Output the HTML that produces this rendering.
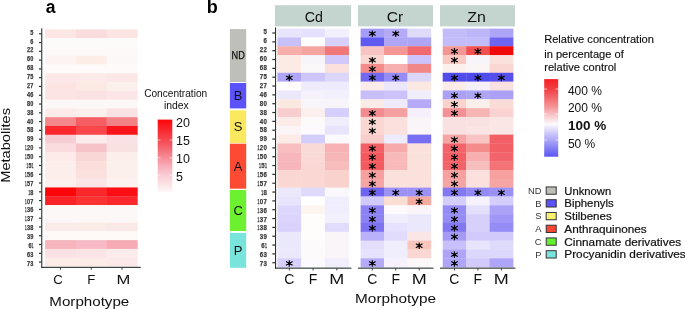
<!DOCTYPE html><html><head><meta charset="utf-8"><style>html,body{margin:0;padding:0;background:#fff;width:685px;height:309px;overflow:hidden}svg{display:block}text{font-family:"Liberation Sans",sans-serif}body{filter:grayscale(0.001)}</style></head><body>
<svg width="685" height="309" viewBox="0 0 685 309">
<rect width="685" height="309" fill="#fff"/>
<rect x="45.10" y="29.40" width="31.07" height="9.08" fill="rgb(252,230,228)"/>
<rect x="75.87" y="29.40" width="31.07" height="9.08" fill="rgb(250,220,222)"/>
<rect x="106.63" y="29.40" width="31.07" height="9.08" fill="rgb(251,228,225)"/>
<rect x="45.10" y="38.18" width="31.07" height="9.08" fill="rgb(253,250,250)"/>
<rect x="75.87" y="38.18" width="31.07" height="9.08" fill="rgb(253,250,250)"/>
<rect x="106.63" y="38.18" width="31.07" height="9.08" fill="rgb(253,250,250)"/>
<rect x="45.10" y="46.96" width="31.07" height="9.08" fill="rgb(253,249,248)"/>
<rect x="75.87" y="46.96" width="31.07" height="9.08" fill="rgb(253,249,248)"/>
<rect x="106.63" y="46.96" width="31.07" height="9.08" fill="rgb(253,249,248)"/>
<rect x="45.10" y="55.74" width="31.07" height="9.08" fill="rgb(252,243,242)"/>
<rect x="75.87" y="55.74" width="31.07" height="9.08" fill="rgb(252,238,230)"/>
<rect x="106.63" y="55.74" width="31.07" height="9.08" fill="rgb(253,248,248)"/>
<rect x="45.10" y="64.52" width="31.07" height="9.08" fill="rgb(253,250,249)"/>
<rect x="75.87" y="64.52" width="31.07" height="9.08" fill="rgb(253,250,249)"/>
<rect x="106.63" y="64.52" width="31.07" height="9.08" fill="rgb(253,250,249)"/>
<rect x="45.10" y="73.30" width="31.07" height="9.08" fill="rgb(252,232,230)"/>
<rect x="75.87" y="73.30" width="31.07" height="9.08" fill="rgb(252,234,232)"/>
<rect x="106.63" y="73.30" width="31.07" height="9.08" fill="rgb(251,232,230)"/>
<rect x="45.10" y="82.08" width="31.07" height="9.08" fill="rgb(251,228,226)"/>
<rect x="75.87" y="82.08" width="31.07" height="9.08" fill="rgb(252,233,228)"/>
<rect x="106.63" y="82.08" width="31.07" height="9.08" fill="rgb(252,240,236)"/>
<rect x="45.10" y="90.86" width="31.07" height="9.08" fill="rgb(251,228,226)"/>
<rect x="75.87" y="90.86" width="31.07" height="9.08" fill="rgb(251,226,226)"/>
<rect x="106.63" y="90.86" width="31.07" height="9.08" fill="rgb(251,229,230)"/>
<rect x="45.10" y="99.64" width="31.07" height="9.08" fill="rgb(253,248,248)"/>
<rect x="75.87" y="99.64" width="31.07" height="9.08" fill="rgb(253,248,248)"/>
<rect x="106.63" y="99.64" width="31.07" height="9.08" fill="rgb(253,248,248)"/>
<rect x="45.10" y="108.42" width="31.07" height="9.08" fill="rgb(252,235,232)"/>
<rect x="75.87" y="108.42" width="31.07" height="9.08" fill="rgb(252,240,238)"/>
<rect x="106.63" y="108.42" width="31.07" height="9.08" fill="rgb(250,225,228)"/>
<rect x="45.10" y="117.20" width="31.07" height="9.08" fill="rgb(244,135,140)"/>
<rect x="75.87" y="117.20" width="31.07" height="9.08" fill="rgb(245,95,100)"/>
<rect x="106.63" y="117.20" width="31.07" height="9.08" fill="rgb(243,130,135)"/>
<rect x="45.10" y="125.98" width="31.07" height="9.08" fill="rgb(250,40,45)"/>
<rect x="75.87" y="125.98" width="31.07" height="9.08" fill="rgb(248,70,75)"/>
<rect x="106.63" y="125.98" width="31.07" height="9.08" fill="rgb(250,20,25)"/>
<rect x="45.10" y="134.76" width="31.07" height="9.08" fill="rgb(247,205,212)"/>
<rect x="75.87" y="134.76" width="31.07" height="9.08" fill="rgb(251,235,235)"/>
<rect x="106.63" y="134.76" width="31.07" height="9.08" fill="rgb(250,225,230)"/>
<rect x="45.10" y="143.54" width="31.07" height="9.08" fill="rgb(250,220,222)"/>
<rect x="75.87" y="143.54" width="31.07" height="9.08" fill="rgb(245,195,200)"/>
<rect x="106.63" y="143.54" width="31.07" height="9.08" fill="rgb(250,225,225)"/>
<rect x="45.10" y="152.32" width="31.07" height="9.08" fill="rgb(252,235,232)"/>
<rect x="75.87" y="152.32" width="31.07" height="9.08" fill="rgb(250,215,215)"/>
<rect x="106.63" y="152.32" width="31.07" height="9.08" fill="rgb(252,238,235)"/>
<rect x="45.10" y="161.10" width="31.07" height="9.08" fill="rgb(252,238,235)"/>
<rect x="75.87" y="161.10" width="31.07" height="9.08" fill="rgb(250,222,220)"/>
<rect x="106.63" y="161.10" width="31.07" height="9.08" fill="rgb(252,240,236)"/>
<rect x="45.10" y="169.88" width="31.07" height="9.08" fill="rgb(252,238,235)"/>
<rect x="75.87" y="169.88" width="31.07" height="9.08" fill="rgb(250,225,222)"/>
<rect x="106.63" y="169.88" width="31.07" height="9.08" fill="rgb(252,240,236)"/>
<rect x="45.10" y="178.66" width="31.07" height="9.08" fill="rgb(252,240,238)"/>
<rect x="75.87" y="178.66" width="31.07" height="9.08" fill="rgb(250,230,230)"/>
<rect x="106.63" y="178.66" width="31.07" height="9.08" fill="rgb(252,242,240)"/>
<rect x="45.10" y="187.44" width="31.07" height="9.08" fill="rgb(252,5,10)"/>
<rect x="75.87" y="187.44" width="31.07" height="9.08" fill="rgb(250,40,42)"/>
<rect x="106.63" y="187.44" width="31.07" height="9.08" fill="rgb(252,15,20)"/>
<rect x="45.10" y="196.22" width="31.07" height="9.08" fill="rgb(250,35,40)"/>
<rect x="75.87" y="196.22" width="31.07" height="9.08" fill="rgb(250,50,50)"/>
<rect x="106.63" y="196.22" width="31.07" height="9.08" fill="rgb(250,40,45)"/>
<rect x="45.10" y="205.00" width="31.07" height="9.08" fill="rgb(253,248,248)"/>
<rect x="75.87" y="205.00" width="31.07" height="9.08" fill="rgb(253,248,248)"/>
<rect x="106.63" y="205.00" width="31.07" height="9.08" fill="rgb(253,248,248)"/>
<rect x="45.10" y="213.78" width="31.07" height="9.08" fill="rgb(253,248,248)"/>
<rect x="75.87" y="213.78" width="31.07" height="9.08" fill="rgb(253,248,248)"/>
<rect x="106.63" y="213.78" width="31.07" height="9.08" fill="rgb(253,248,248)"/>
<rect x="45.10" y="222.56" width="31.07" height="9.08" fill="rgb(251,235,232)"/>
<rect x="75.87" y="222.56" width="31.07" height="9.08" fill="rgb(251,236,232)"/>
<rect x="106.63" y="222.56" width="31.07" height="9.08" fill="rgb(250,232,230)"/>
<rect x="45.10" y="231.34" width="31.07" height="9.08" fill="rgb(253,250,248)"/>
<rect x="75.87" y="231.34" width="31.07" height="9.08" fill="rgb(253,250,248)"/>
<rect x="106.63" y="231.34" width="31.07" height="9.08" fill="rgb(253,250,248)"/>
<rect x="45.10" y="240.12" width="31.07" height="9.08" fill="rgb(246,180,188)"/>
<rect x="75.87" y="240.12" width="31.07" height="9.08" fill="rgb(247,185,195)"/>
<rect x="106.63" y="240.12" width="31.07" height="9.08" fill="rgb(245,170,180)"/>
<rect x="45.10" y="248.90" width="31.07" height="9.08" fill="rgb(250,225,228)"/>
<rect x="75.87" y="248.90" width="31.07" height="9.08" fill="rgb(250,228,230)"/>
<rect x="106.63" y="248.90" width="31.07" height="9.08" fill="rgb(251,235,235)"/>
<rect x="45.10" y="257.68" width="31.07" height="9.08" fill="rgb(251,236,232)"/>
<rect x="75.87" y="257.68" width="31.07" height="9.08" fill="rgb(251,236,232)"/>
<rect x="106.63" y="257.68" width="31.07" height="9.08" fill="rgb(251,232,232)"/>
<rect x="41.2" y="28.3" width="1.1" height="239.6" fill="#2a3330"/>
<rect x="41.2" y="266.8" width="99.5" height="1.1" fill="#2a3330"/>
<rect x="39" y="33.19" width="2.5" height="1.2" fill="#2a3330"/>
<text x="30.30" y="34.70" font-size="7.0" font-weight="bold" fill="#3a3a3a" stroke="#3a3a3a" stroke-width="0.25" textLength="3.10" lengthAdjust="spacingAndGlyphs">5</text>
<rect x="39" y="41.97" width="2.5" height="1.2" fill="#2a3330"/>
<text x="30.30" y="43.59" font-size="7.0" font-weight="bold" fill="#3a3a3a" stroke="#3a3a3a" stroke-width="0.25" textLength="3.10" lengthAdjust="spacingAndGlyphs">6</text>
<rect x="39" y="50.75" width="2.5" height="1.2" fill="#2a3330"/>
<text x="26.90" y="52.48" font-size="7.0" font-weight="bold" fill="#3a3a3a" stroke="#3a3a3a" stroke-width="0.25" textLength="3.10" lengthAdjust="spacingAndGlyphs">2</text><text x="30.30" y="52.48" font-size="7.0" font-weight="bold" fill="#3a3a3a" stroke="#3a3a3a" stroke-width="0.25" textLength="3.10" lengthAdjust="spacingAndGlyphs">2</text>
<rect x="39" y="59.53" width="2.5" height="1.2" fill="#2a3330"/>
<text x="26.90" y="61.36" font-size="7.0" font-weight="bold" fill="#3a3a3a" stroke="#3a3a3a" stroke-width="0.25" textLength="3.10" lengthAdjust="spacingAndGlyphs">6</text><text x="30.30" y="61.36" font-size="7.0" font-weight="bold" fill="#3a3a3a" stroke="#3a3a3a" stroke-width="0.25" textLength="3.10" lengthAdjust="spacingAndGlyphs">0</text>
<rect x="39" y="68.31" width="2.5" height="1.2" fill="#2a3330"/>
<text x="26.90" y="70.25" font-size="7.0" font-weight="bold" fill="#3a3a3a" stroke="#3a3a3a" stroke-width="0.25" textLength="3.10" lengthAdjust="spacingAndGlyphs">6</text><text x="30.30" y="70.25" font-size="7.0" font-weight="bold" fill="#3a3a3a" stroke="#3a3a3a" stroke-width="0.25" textLength="3.10" lengthAdjust="spacingAndGlyphs">8</text>
<rect x="39" y="77.09" width="2.5" height="1.2" fill="#2a3330"/>
<text x="26.90" y="79.14" font-size="7.0" font-weight="bold" fill="#3a3a3a" stroke="#3a3a3a" stroke-width="0.25" textLength="3.10" lengthAdjust="spacingAndGlyphs">7</text><text x="30.30" y="79.14" font-size="7.0" font-weight="bold" fill="#3a3a3a" stroke="#3a3a3a" stroke-width="0.25" textLength="3.10" lengthAdjust="spacingAndGlyphs">5</text>
<rect x="39" y="85.87" width="2.5" height="1.2" fill="#2a3330"/>
<text x="26.90" y="88.03" font-size="7.0" font-weight="bold" fill="#3a3a3a" stroke="#3a3a3a" stroke-width="0.25" textLength="3.10" lengthAdjust="spacingAndGlyphs">2</text><text x="30.30" y="88.03" font-size="7.0" font-weight="bold" fill="#3a3a3a" stroke="#3a3a3a" stroke-width="0.25" textLength="3.10" lengthAdjust="spacingAndGlyphs">7</text>
<rect x="39" y="94.65" width="2.5" height="1.2" fill="#2a3330"/>
<text x="26.90" y="96.92" font-size="7.0" font-weight="bold" fill="#3a3a3a" stroke="#3a3a3a" stroke-width="0.25" textLength="3.10" lengthAdjust="spacingAndGlyphs">4</text><text x="30.30" y="96.92" font-size="7.0" font-weight="bold" fill="#3a3a3a" stroke="#3a3a3a" stroke-width="0.25" textLength="3.10" lengthAdjust="spacingAndGlyphs">6</text>
<rect x="39" y="103.43" width="2.5" height="1.2" fill="#2a3330"/>
<text x="26.90" y="105.80" font-size="7.0" font-weight="bold" fill="#3a3a3a" stroke="#3a3a3a" stroke-width="0.25" textLength="3.10" lengthAdjust="spacingAndGlyphs">8</text><text x="30.30" y="105.80" font-size="7.0" font-weight="bold" fill="#3a3a3a" stroke="#3a3a3a" stroke-width="0.25" textLength="3.10" lengthAdjust="spacingAndGlyphs">0</text>
<rect x="39" y="112.21" width="2.5" height="1.2" fill="#2a3330"/>
<text x="26.90" y="114.69" font-size="7.0" font-weight="bold" fill="#3a3a3a" stroke="#3a3a3a" stroke-width="0.25" textLength="3.10" lengthAdjust="spacingAndGlyphs">3</text><text x="30.30" y="114.69" font-size="7.0" font-weight="bold" fill="#3a3a3a" stroke="#3a3a3a" stroke-width="0.25" textLength="3.10" lengthAdjust="spacingAndGlyphs">8</text>
<rect x="39" y="120.99" width="2.5" height="1.2" fill="#2a3330"/>
<text x="26.90" y="123.58" font-size="7.0" font-weight="bold" fill="#3a3a3a" stroke="#3a3a3a" stroke-width="0.25" textLength="3.10" lengthAdjust="spacingAndGlyphs">4</text><text x="30.30" y="123.58" font-size="7.0" font-weight="bold" fill="#3a3a3a" stroke="#3a3a3a" stroke-width="0.25" textLength="3.10" lengthAdjust="spacingAndGlyphs">0</text>
<rect x="39" y="129.77" width="2.5" height="1.2" fill="#2a3330"/>
<text x="26.90" y="132.47" font-size="7.0" font-weight="bold" fill="#3a3a3a" stroke="#3a3a3a" stroke-width="0.25" textLength="3.10" lengthAdjust="spacingAndGlyphs">5</text><text x="30.30" y="132.47" font-size="7.0" font-weight="bold" fill="#3a3a3a" stroke="#3a3a3a" stroke-width="0.25" textLength="3.10" lengthAdjust="spacingAndGlyphs">8</text>
<rect x="39" y="138.55" width="2.5" height="1.2" fill="#2a3330"/>
<text x="26.90" y="141.36" font-size="7.0" font-weight="bold" fill="#3a3a3a" stroke="#3a3a3a" stroke-width="0.25" textLength="3.10" lengthAdjust="spacingAndGlyphs">9</text><text x="30.30" y="141.36" font-size="7.0" font-weight="bold" fill="#3a3a3a" stroke="#3a3a3a" stroke-width="0.25" textLength="3.10" lengthAdjust="spacingAndGlyphs">9</text>
<rect x="39" y="147.33" width="2.5" height="1.2" fill="#2a3330"/>
<text x="25.00" y="150.24" font-size="7.0" font-weight="bold" fill="#3a3a3a" stroke="#3a3a3a" stroke-width="0.25" textLength="1.60" lengthAdjust="spacingAndGlyphs">1</text><text x="26.90" y="150.24" font-size="7.0" font-weight="bold" fill="#3a3a3a" stroke="#3a3a3a" stroke-width="0.25" textLength="3.10" lengthAdjust="spacingAndGlyphs">2</text><text x="30.30" y="150.24" font-size="7.0" font-weight="bold" fill="#3a3a3a" stroke="#3a3a3a" stroke-width="0.25" textLength="3.10" lengthAdjust="spacingAndGlyphs">0</text>
<rect x="39" y="156.11" width="2.5" height="1.2" fill="#2a3330"/>
<text x="25.00" y="159.13" font-size="7.0" font-weight="bold" fill="#3a3a3a" stroke="#3a3a3a" stroke-width="0.25" textLength="1.60" lengthAdjust="spacingAndGlyphs">1</text><text x="26.90" y="159.13" font-size="7.0" font-weight="bold" fill="#3a3a3a" stroke="#3a3a3a" stroke-width="0.25" textLength="3.10" lengthAdjust="spacingAndGlyphs">5</text><text x="30.30" y="159.13" font-size="7.0" font-weight="bold" fill="#3a3a3a" stroke="#3a3a3a" stroke-width="0.25" textLength="3.10" lengthAdjust="spacingAndGlyphs">0</text>
<rect x="39" y="164.89" width="2.5" height="1.2" fill="#2a3330"/>
<text x="26.50" y="168.02" font-size="7.0" font-weight="bold" fill="#3a3a3a" stroke="#3a3a3a" stroke-width="0.25" textLength="1.60" lengthAdjust="spacingAndGlyphs">1</text><text x="28.40" y="168.02" font-size="7.0" font-weight="bold" fill="#3a3a3a" stroke="#3a3a3a" stroke-width="0.25" textLength="3.10" lengthAdjust="spacingAndGlyphs">5</text><text x="31.80" y="168.02" font-size="7.0" font-weight="bold" fill="#3a3a3a" stroke="#3a3a3a" stroke-width="0.25" textLength="1.60" lengthAdjust="spacingAndGlyphs">1</text>
<rect x="39" y="173.67" width="2.5" height="1.2" fill="#2a3330"/>
<text x="25.00" y="176.91" font-size="7.0" font-weight="bold" fill="#3a3a3a" stroke="#3a3a3a" stroke-width="0.25" textLength="1.60" lengthAdjust="spacingAndGlyphs">1</text><text x="26.90" y="176.91" font-size="7.0" font-weight="bold" fill="#3a3a3a" stroke="#3a3a3a" stroke-width="0.25" textLength="3.10" lengthAdjust="spacingAndGlyphs">5</text><text x="30.30" y="176.91" font-size="7.0" font-weight="bold" fill="#3a3a3a" stroke="#3a3a3a" stroke-width="0.25" textLength="3.10" lengthAdjust="spacingAndGlyphs">6</text>
<rect x="39" y="182.45" width="2.5" height="1.2" fill="#2a3330"/>
<text x="25.00" y="185.80" font-size="7.0" font-weight="bold" fill="#3a3a3a" stroke="#3a3a3a" stroke-width="0.25" textLength="1.60" lengthAdjust="spacingAndGlyphs">1</text><text x="26.90" y="185.80" font-size="7.0" font-weight="bold" fill="#3a3a3a" stroke="#3a3a3a" stroke-width="0.25" textLength="3.10" lengthAdjust="spacingAndGlyphs">5</text><text x="30.30" y="185.80" font-size="7.0" font-weight="bold" fill="#3a3a3a" stroke="#3a3a3a" stroke-width="0.25" textLength="3.10" lengthAdjust="spacingAndGlyphs">7</text>
<rect x="39" y="191.23" width="2.5" height="1.2" fill="#2a3330"/>
<text x="28.40" y="194.68" font-size="7.0" font-weight="bold" fill="#3a3a3a" stroke="#3a3a3a" stroke-width="0.25" textLength="1.60" lengthAdjust="spacingAndGlyphs">1</text><text x="30.30" y="194.68" font-size="7.0" font-weight="bold" fill="#3a3a3a" stroke="#3a3a3a" stroke-width="0.25" textLength="3.10" lengthAdjust="spacingAndGlyphs">8</text>
<rect x="39" y="200.01" width="2.5" height="1.2" fill="#2a3330"/>
<text x="25.00" y="203.57" font-size="7.0" font-weight="bold" fill="#3a3a3a" stroke="#3a3a3a" stroke-width="0.25" textLength="1.60" lengthAdjust="spacingAndGlyphs">1</text><text x="26.90" y="203.57" font-size="7.0" font-weight="bold" fill="#3a3a3a" stroke="#3a3a3a" stroke-width="0.25" textLength="3.10" lengthAdjust="spacingAndGlyphs">0</text><text x="30.30" y="203.57" font-size="7.0" font-weight="bold" fill="#3a3a3a" stroke="#3a3a3a" stroke-width="0.25" textLength="3.10" lengthAdjust="spacingAndGlyphs">7</text>
<rect x="39" y="208.79" width="2.5" height="1.2" fill="#2a3330"/>
<text x="25.00" y="212.46" font-size="7.0" font-weight="bold" fill="#3a3a3a" stroke="#3a3a3a" stroke-width="0.25" textLength="1.60" lengthAdjust="spacingAndGlyphs">1</text><text x="26.90" y="212.46" font-size="7.0" font-weight="bold" fill="#3a3a3a" stroke="#3a3a3a" stroke-width="0.25" textLength="3.10" lengthAdjust="spacingAndGlyphs">3</text><text x="30.30" y="212.46" font-size="7.0" font-weight="bold" fill="#3a3a3a" stroke="#3a3a3a" stroke-width="0.25" textLength="3.10" lengthAdjust="spacingAndGlyphs">6</text>
<rect x="39" y="217.57" width="2.5" height="1.2" fill="#2a3330"/>
<text x="25.00" y="221.35" font-size="7.0" font-weight="bold" fill="#3a3a3a" stroke="#3a3a3a" stroke-width="0.25" textLength="1.60" lengthAdjust="spacingAndGlyphs">1</text><text x="26.90" y="221.35" font-size="7.0" font-weight="bold" fill="#3a3a3a" stroke="#3a3a3a" stroke-width="0.25" textLength="3.10" lengthAdjust="spacingAndGlyphs">3</text><text x="30.30" y="221.35" font-size="7.0" font-weight="bold" fill="#3a3a3a" stroke="#3a3a3a" stroke-width="0.25" textLength="3.10" lengthAdjust="spacingAndGlyphs">7</text>
<rect x="39" y="226.35" width="2.5" height="1.2" fill="#2a3330"/>
<text x="25.00" y="230.24" font-size="7.0" font-weight="bold" fill="#3a3a3a" stroke="#3a3a3a" stroke-width="0.25" textLength="1.60" lengthAdjust="spacingAndGlyphs">1</text><text x="26.90" y="230.24" font-size="7.0" font-weight="bold" fill="#3a3a3a" stroke="#3a3a3a" stroke-width="0.25" textLength="3.10" lengthAdjust="spacingAndGlyphs">3</text><text x="30.30" y="230.24" font-size="7.0" font-weight="bold" fill="#3a3a3a" stroke="#3a3a3a" stroke-width="0.25" textLength="3.10" lengthAdjust="spacingAndGlyphs">8</text>
<rect x="39" y="235.13" width="2.5" height="1.2" fill="#2a3330"/>
<text x="26.90" y="239.12" font-size="7.0" font-weight="bold" fill="#3a3a3a" stroke="#3a3a3a" stroke-width="0.25" textLength="3.10" lengthAdjust="spacingAndGlyphs">3</text><text x="30.30" y="239.12" font-size="7.0" font-weight="bold" fill="#3a3a3a" stroke="#3a3a3a" stroke-width="0.25" textLength="3.10" lengthAdjust="spacingAndGlyphs">9</text>
<rect x="39" y="243.91" width="2.5" height="1.2" fill="#2a3330"/>
<text x="28.40" y="248.01" font-size="7.0" font-weight="bold" fill="#3a3a3a" stroke="#3a3a3a" stroke-width="0.25" textLength="3.10" lengthAdjust="spacingAndGlyphs">6</text><text x="31.80" y="248.01" font-size="7.0" font-weight="bold" fill="#3a3a3a" stroke="#3a3a3a" stroke-width="0.25" textLength="1.60" lengthAdjust="spacingAndGlyphs">1</text>
<rect x="39" y="252.69" width="2.5" height="1.2" fill="#2a3330"/>
<text x="26.90" y="256.90" font-size="7.0" font-weight="bold" fill="#3a3a3a" stroke="#3a3a3a" stroke-width="0.25" textLength="3.10" lengthAdjust="spacingAndGlyphs">6</text><text x="30.30" y="256.90" font-size="7.0" font-weight="bold" fill="#3a3a3a" stroke="#3a3a3a" stroke-width="0.25" textLength="3.10" lengthAdjust="spacingAndGlyphs">3</text>
<rect x="39" y="261.47" width="2.5" height="1.2" fill="#2a3330"/>
<text x="26.90" y="265.79" font-size="7.0" font-weight="bold" fill="#3a3a3a" stroke="#3a3a3a" stroke-width="0.25" textLength="3.10" lengthAdjust="spacingAndGlyphs">7</text><text x="30.30" y="265.79" font-size="7.0" font-weight="bold" fill="#3a3a3a" stroke="#3a3a3a" stroke-width="0.25" textLength="3.10" lengthAdjust="spacingAndGlyphs">3</text>
<rect x="60.03" y="267.5" width="0.9" height="2.2" fill="#2a3330"/>
<rect x="90.80" y="267.5" width="0.9" height="2.2" fill="#2a3330"/>
<rect x="121.57" y="267.5" width="0.9" height="2.2" fill="#2a3330"/>
<text x="58.0" y="283.8" font-size="13.2" fill="#111" text-anchor="middle">C</text>
<text x="91.4" y="283.8" font-size="13.2" fill="#111" text-anchor="middle">F</text>
<text x="123.4" y="283.8" font-size="13.2" fill="#111" text-anchor="middle" textLength="13.8" lengthAdjust="spacingAndGlyphs">M</text>
<text x="49.3" y="305.5" font-size="13" fill="#111" textLength="80" lengthAdjust="spacingAndGlyphs">Morphotype</text>
<text transform="translate(10.3,182.8) rotate(-90)" font-size="13" fill="#111" textLength="74.8" lengthAdjust="spacingAndGlyphs">Metabolites</text>
<text x="50.6" y="13" font-size="17.5" font-weight="bold" fill="#000" text-anchor="middle">a</text>
<text x="175.7" y="96.6" font-size="10.4" fill="#111" text-anchor="middle" textLength="63" lengthAdjust="spacingAndGlyphs">Concentration</text>
<text x="176.3" y="109.1" font-size="10.4" fill="#111" text-anchor="middle">index</text>
<defs><linearGradient id="ga" x1="0" y1="0" x2="0" y2="1"><stop offset="0" stop-color="rgb(250,5,10)"/><stop offset="0.35" stop-color="rgb(245,90,100)"/><stop offset="0.7" stop-color="rgb(248,190,200)"/><stop offset="1" stop-color="rgb(253,248,248)"/></linearGradient>
<linearGradient id="gb" x1="0" y1="0" x2="0" y2="1"><stop offset="0" stop-color="rgb(245,30,35)"/><stop offset="0.15" stop-color="rgb(242,70,75)"/><stop offset="0.36" stop-color="rgb(245,150,152)"/><stop offset="0.58" stop-color="rgb(252,250,252)"/><stop offset="0.7" stop-color="rgb(205,200,250)"/><stop offset="1" stop-color="rgb(90,85,240)"/></linearGradient></defs>
<rect x="157.7" y="119.6" width="14.6" height="72.5" fill="url(#ga)"/>
<rect x="157.7" y="139.6" width="2.6" height="0.8" fill="#fff" opacity="0.8"/><rect x="169.7" y="139.6" width="2.6" height="0.8" fill="#fff" opacity="0.8"/>
<rect x="157.7" y="157.4" width="2.6" height="0.8" fill="#fff" opacity="0.8"/><rect x="169.7" y="157.4" width="2.6" height="0.8" fill="#fff" opacity="0.8"/>
<rect x="157.7" y="174.8" width="2.6" height="0.8" fill="#fff" opacity="0.8"/><rect x="169.7" y="174.8" width="2.6" height="0.8" fill="#fff" opacity="0.8"/>
<text x="176" y="127.4" font-size="12.5" fill="#111">20</text>
<text x="176" y="145.3" font-size="12.5" fill="#111">15</text>
<text x="176" y="163.1" font-size="12.5" fill="#111">10</text>
<text x="176" y="180.5" font-size="12.5" fill="#111">5</text>
<text x="212.3" y="13" font-size="18" font-weight="bold" fill="#000" text-anchor="middle">b</text>
<rect x="229.9" y="29.10" width="16.3" height="52.90" fill="rgb(191,191,186)"/>
<text x="238.2" y="59.25" font-size="10.3" fill="#111" stroke="#111" stroke-width="0.25" text-anchor="middle" textLength="13.3" lengthAdjust="spacingAndGlyphs">ND</text>
<rect x="229.9" y="83.00" width="16.3" height="25.40" fill="rgb(92,82,250)"/>
<text x="238.1" y="100.30" font-size="13.0" fill="#111" text-anchor="middle">B</text>
<rect x="229.9" y="110.30" width="16.3" height="32.70" fill="rgb(250,232,95)"/>
<text x="238.1" y="131.25" font-size="13.0" fill="#111" text-anchor="middle">S</text>
<rect x="229.9" y="143.70" width="16.3" height="45.00" fill="rgb(252,75,50)"/>
<text x="238.1" y="170.80" font-size="13.0" fill="#111" text-anchor="middle">A</text>
<rect x="229.9" y="190.00" width="16.3" height="41.00" fill="rgb(108,240,48)"/>
<text x="238.1" y="215.10" font-size="13.0" fill="#111" text-anchor="middle">C</text>
<rect x="229.9" y="232.90" width="16.3" height="34.90" fill="rgb(120,228,220)"/>
<text x="238.1" y="254.95" font-size="13.0" fill="#111" text-anchor="middle">P</text>
<rect x="275.0" y="27.5" width="1.1" height="241.2" fill="#2a3330"/>
<rect x="272.3" y="32.42" width="2.8" height="1.2" fill="#2a3330"/>
<text x="263.50" y="34.45" font-size="7.0" font-weight="bold" fill="#3a3a3a" stroke="#3a3a3a" stroke-width="0.25" textLength="3.40" lengthAdjust="spacingAndGlyphs">5</text>
<rect x="272.3" y="41.25" width="2.8" height="1.2" fill="#2a3330"/>
<text x="263.50" y="43.36" font-size="7.0" font-weight="bold" fill="#3a3a3a" stroke="#3a3a3a" stroke-width="0.25" textLength="3.40" lengthAdjust="spacingAndGlyphs">6</text>
<rect x="272.3" y="50.09" width="2.8" height="1.2" fill="#2a3330"/>
<text x="259.80" y="52.27" font-size="7.0" font-weight="bold" fill="#3a3a3a" stroke="#3a3a3a" stroke-width="0.25" textLength="3.40" lengthAdjust="spacingAndGlyphs">2</text><text x="263.50" y="52.27" font-size="7.0" font-weight="bold" fill="#3a3a3a" stroke="#3a3a3a" stroke-width="0.25" textLength="3.40" lengthAdjust="spacingAndGlyphs">2</text>
<rect x="272.3" y="58.92" width="2.8" height="1.2" fill="#2a3330"/>
<text x="259.80" y="61.17" font-size="7.0" font-weight="bold" fill="#3a3a3a" stroke="#3a3a3a" stroke-width="0.25" textLength="3.40" lengthAdjust="spacingAndGlyphs">6</text><text x="263.50" y="61.17" font-size="7.0" font-weight="bold" fill="#3a3a3a" stroke="#3a3a3a" stroke-width="0.25" textLength="3.40" lengthAdjust="spacingAndGlyphs">0</text>
<rect x="272.3" y="67.76" width="2.8" height="1.2" fill="#2a3330"/>
<text x="259.80" y="70.08" font-size="7.0" font-weight="bold" fill="#3a3a3a" stroke="#3a3a3a" stroke-width="0.25" textLength="3.40" lengthAdjust="spacingAndGlyphs">6</text><text x="263.50" y="70.08" font-size="7.0" font-weight="bold" fill="#3a3a3a" stroke="#3a3a3a" stroke-width="0.25" textLength="3.40" lengthAdjust="spacingAndGlyphs">8</text>
<rect x="272.3" y="76.59" width="2.8" height="1.2" fill="#2a3330"/>
<text x="259.80" y="78.99" font-size="7.0" font-weight="bold" fill="#3a3a3a" stroke="#3a3a3a" stroke-width="0.25" textLength="3.40" lengthAdjust="spacingAndGlyphs">7</text><text x="263.50" y="78.99" font-size="7.0" font-weight="bold" fill="#3a3a3a" stroke="#3a3a3a" stroke-width="0.25" textLength="3.40" lengthAdjust="spacingAndGlyphs">5</text>
<rect x="272.3" y="85.43" width="2.8" height="1.2" fill="#2a3330"/>
<text x="259.80" y="87.90" font-size="7.0" font-weight="bold" fill="#3a3a3a" stroke="#3a3a3a" stroke-width="0.25" textLength="3.40" lengthAdjust="spacingAndGlyphs">2</text><text x="263.50" y="87.90" font-size="7.0" font-weight="bold" fill="#3a3a3a" stroke="#3a3a3a" stroke-width="0.25" textLength="3.40" lengthAdjust="spacingAndGlyphs">7</text>
<rect x="272.3" y="94.26" width="2.8" height="1.2" fill="#2a3330"/>
<text x="259.80" y="96.81" font-size="7.0" font-weight="bold" fill="#3a3a3a" stroke="#3a3a3a" stroke-width="0.25" textLength="3.40" lengthAdjust="spacingAndGlyphs">4</text><text x="263.50" y="96.81" font-size="7.0" font-weight="bold" fill="#3a3a3a" stroke="#3a3a3a" stroke-width="0.25" textLength="3.40" lengthAdjust="spacingAndGlyphs">6</text>
<rect x="272.3" y="103.10" width="2.8" height="1.2" fill="#2a3330"/>
<text x="259.80" y="105.71" font-size="7.0" font-weight="bold" fill="#3a3a3a" stroke="#3a3a3a" stroke-width="0.25" textLength="3.40" lengthAdjust="spacingAndGlyphs">8</text><text x="263.50" y="105.71" font-size="7.0" font-weight="bold" fill="#3a3a3a" stroke="#3a3a3a" stroke-width="0.25" textLength="3.40" lengthAdjust="spacingAndGlyphs">0</text>
<rect x="272.3" y="111.93" width="2.8" height="1.2" fill="#2a3330"/>
<text x="259.80" y="114.62" font-size="7.0" font-weight="bold" fill="#3a3a3a" stroke="#3a3a3a" stroke-width="0.25" textLength="3.40" lengthAdjust="spacingAndGlyphs">3</text><text x="263.50" y="114.62" font-size="7.0" font-weight="bold" fill="#3a3a3a" stroke="#3a3a3a" stroke-width="0.25" textLength="3.40" lengthAdjust="spacingAndGlyphs">8</text>
<rect x="272.3" y="120.77" width="2.8" height="1.2" fill="#2a3330"/>
<text x="259.80" y="123.53" font-size="7.0" font-weight="bold" fill="#3a3a3a" stroke="#3a3a3a" stroke-width="0.25" textLength="3.40" lengthAdjust="spacingAndGlyphs">4</text><text x="263.50" y="123.53" font-size="7.0" font-weight="bold" fill="#3a3a3a" stroke="#3a3a3a" stroke-width="0.25" textLength="3.40" lengthAdjust="spacingAndGlyphs">0</text>
<rect x="272.3" y="129.60" width="2.8" height="1.2" fill="#2a3330"/>
<text x="259.80" y="132.44" font-size="7.0" font-weight="bold" fill="#3a3a3a" stroke="#3a3a3a" stroke-width="0.25" textLength="3.40" lengthAdjust="spacingAndGlyphs">5</text><text x="263.50" y="132.44" font-size="7.0" font-weight="bold" fill="#3a3a3a" stroke="#3a3a3a" stroke-width="0.25" textLength="3.40" lengthAdjust="spacingAndGlyphs">8</text>
<rect x="272.3" y="138.44" width="2.8" height="1.2" fill="#2a3330"/>
<text x="259.80" y="141.35" font-size="7.0" font-weight="bold" fill="#3a3a3a" stroke="#3a3a3a" stroke-width="0.25" textLength="3.40" lengthAdjust="spacingAndGlyphs">9</text><text x="263.50" y="141.35" font-size="7.0" font-weight="bold" fill="#3a3a3a" stroke="#3a3a3a" stroke-width="0.25" textLength="3.40" lengthAdjust="spacingAndGlyphs">9</text>
<rect x="272.3" y="147.27" width="2.8" height="1.2" fill="#2a3330"/>
<text x="257.60" y="150.25" font-size="7.0" font-weight="bold" fill="#3a3a3a" stroke="#3a3a3a" stroke-width="0.25" textLength="1.90" lengthAdjust="spacingAndGlyphs">1</text><text x="259.80" y="150.25" font-size="7.0" font-weight="bold" fill="#3a3a3a" stroke="#3a3a3a" stroke-width="0.25" textLength="3.40" lengthAdjust="spacingAndGlyphs">2</text><text x="263.50" y="150.25" font-size="7.0" font-weight="bold" fill="#3a3a3a" stroke="#3a3a3a" stroke-width="0.25" textLength="3.40" lengthAdjust="spacingAndGlyphs">0</text>
<rect x="272.3" y="156.11" width="2.8" height="1.2" fill="#2a3330"/>
<text x="257.60" y="159.16" font-size="7.0" font-weight="bold" fill="#3a3a3a" stroke="#3a3a3a" stroke-width="0.25" textLength="1.90" lengthAdjust="spacingAndGlyphs">1</text><text x="259.80" y="159.16" font-size="7.0" font-weight="bold" fill="#3a3a3a" stroke="#3a3a3a" stroke-width="0.25" textLength="3.40" lengthAdjust="spacingAndGlyphs">5</text><text x="263.50" y="159.16" font-size="7.0" font-weight="bold" fill="#3a3a3a" stroke="#3a3a3a" stroke-width="0.25" textLength="3.40" lengthAdjust="spacingAndGlyphs">0</text>
<rect x="272.3" y="164.94" width="2.8" height="1.2" fill="#2a3330"/>
<text x="259.10" y="168.07" font-size="7.0" font-weight="bold" fill="#3a3a3a" stroke="#3a3a3a" stroke-width="0.25" textLength="1.90" lengthAdjust="spacingAndGlyphs">1</text><text x="261.30" y="168.07" font-size="7.0" font-weight="bold" fill="#3a3a3a" stroke="#3a3a3a" stroke-width="0.25" textLength="3.40" lengthAdjust="spacingAndGlyphs">5</text><text x="265.00" y="168.07" font-size="7.0" font-weight="bold" fill="#3a3a3a" stroke="#3a3a3a" stroke-width="0.25" textLength="1.90" lengthAdjust="spacingAndGlyphs">1</text>
<rect x="272.3" y="173.78" width="2.8" height="1.2" fill="#2a3330"/>
<text x="257.60" y="176.98" font-size="7.0" font-weight="bold" fill="#3a3a3a" stroke="#3a3a3a" stroke-width="0.25" textLength="1.90" lengthAdjust="spacingAndGlyphs">1</text><text x="259.80" y="176.98" font-size="7.0" font-weight="bold" fill="#3a3a3a" stroke="#3a3a3a" stroke-width="0.25" textLength="3.40" lengthAdjust="spacingAndGlyphs">5</text><text x="263.50" y="176.98" font-size="7.0" font-weight="bold" fill="#3a3a3a" stroke="#3a3a3a" stroke-width="0.25" textLength="3.40" lengthAdjust="spacingAndGlyphs">6</text>
<rect x="272.3" y="182.61" width="2.8" height="1.2" fill="#2a3330"/>
<text x="257.60" y="185.89" font-size="7.0" font-weight="bold" fill="#3a3a3a" stroke="#3a3a3a" stroke-width="0.25" textLength="1.90" lengthAdjust="spacingAndGlyphs">1</text><text x="259.80" y="185.89" font-size="7.0" font-weight="bold" fill="#3a3a3a" stroke="#3a3a3a" stroke-width="0.25" textLength="3.40" lengthAdjust="spacingAndGlyphs">5</text><text x="263.50" y="185.89" font-size="7.0" font-weight="bold" fill="#3a3a3a" stroke="#3a3a3a" stroke-width="0.25" textLength="3.40" lengthAdjust="spacingAndGlyphs">7</text>
<rect x="272.3" y="191.45" width="2.8" height="1.2" fill="#2a3330"/>
<text x="261.30" y="194.79" font-size="7.0" font-weight="bold" fill="#3a3a3a" stroke="#3a3a3a" stroke-width="0.25" textLength="1.90" lengthAdjust="spacingAndGlyphs">1</text><text x="263.50" y="194.79" font-size="7.0" font-weight="bold" fill="#3a3a3a" stroke="#3a3a3a" stroke-width="0.25" textLength="3.40" lengthAdjust="spacingAndGlyphs">8</text>
<rect x="272.3" y="200.28" width="2.8" height="1.2" fill="#2a3330"/>
<text x="257.60" y="203.70" font-size="7.0" font-weight="bold" fill="#3a3a3a" stroke="#3a3a3a" stroke-width="0.25" textLength="1.90" lengthAdjust="spacingAndGlyphs">1</text><text x="259.80" y="203.70" font-size="7.0" font-weight="bold" fill="#3a3a3a" stroke="#3a3a3a" stroke-width="0.25" textLength="3.40" lengthAdjust="spacingAndGlyphs">0</text><text x="263.50" y="203.70" font-size="7.0" font-weight="bold" fill="#3a3a3a" stroke="#3a3a3a" stroke-width="0.25" textLength="3.40" lengthAdjust="spacingAndGlyphs">7</text>
<rect x="272.3" y="209.12" width="2.8" height="1.2" fill="#2a3330"/>
<text x="257.60" y="212.61" font-size="7.0" font-weight="bold" fill="#3a3a3a" stroke="#3a3a3a" stroke-width="0.25" textLength="1.90" lengthAdjust="spacingAndGlyphs">1</text><text x="259.80" y="212.61" font-size="7.0" font-weight="bold" fill="#3a3a3a" stroke="#3a3a3a" stroke-width="0.25" textLength="3.40" lengthAdjust="spacingAndGlyphs">3</text><text x="263.50" y="212.61" font-size="7.0" font-weight="bold" fill="#3a3a3a" stroke="#3a3a3a" stroke-width="0.25" textLength="3.40" lengthAdjust="spacingAndGlyphs">6</text>
<rect x="272.3" y="217.95" width="2.8" height="1.2" fill="#2a3330"/>
<text x="257.60" y="221.52" font-size="7.0" font-weight="bold" fill="#3a3a3a" stroke="#3a3a3a" stroke-width="0.25" textLength="1.90" lengthAdjust="spacingAndGlyphs">1</text><text x="259.80" y="221.52" font-size="7.0" font-weight="bold" fill="#3a3a3a" stroke="#3a3a3a" stroke-width="0.25" textLength="3.40" lengthAdjust="spacingAndGlyphs">3</text><text x="263.50" y="221.52" font-size="7.0" font-weight="bold" fill="#3a3a3a" stroke="#3a3a3a" stroke-width="0.25" textLength="3.40" lengthAdjust="spacingAndGlyphs">7</text>
<rect x="272.3" y="226.79" width="2.8" height="1.2" fill="#2a3330"/>
<text x="257.60" y="230.43" font-size="7.0" font-weight="bold" fill="#3a3a3a" stroke="#3a3a3a" stroke-width="0.25" textLength="1.90" lengthAdjust="spacingAndGlyphs">1</text><text x="259.80" y="230.43" font-size="7.0" font-weight="bold" fill="#3a3a3a" stroke="#3a3a3a" stroke-width="0.25" textLength="3.40" lengthAdjust="spacingAndGlyphs">3</text><text x="263.50" y="230.43" font-size="7.0" font-weight="bold" fill="#3a3a3a" stroke="#3a3a3a" stroke-width="0.25" textLength="3.40" lengthAdjust="spacingAndGlyphs">8</text>
<rect x="272.3" y="235.62" width="2.8" height="1.2" fill="#2a3330"/>
<text x="259.80" y="239.33" font-size="7.0" font-weight="bold" fill="#3a3a3a" stroke="#3a3a3a" stroke-width="0.25" textLength="3.40" lengthAdjust="spacingAndGlyphs">3</text><text x="263.50" y="239.33" font-size="7.0" font-weight="bold" fill="#3a3a3a" stroke="#3a3a3a" stroke-width="0.25" textLength="3.40" lengthAdjust="spacingAndGlyphs">9</text>
<rect x="272.3" y="244.46" width="2.8" height="1.2" fill="#2a3330"/>
<text x="261.30" y="248.24" font-size="7.0" font-weight="bold" fill="#3a3a3a" stroke="#3a3a3a" stroke-width="0.25" textLength="3.40" lengthAdjust="spacingAndGlyphs">6</text><text x="265.00" y="248.24" font-size="7.0" font-weight="bold" fill="#3a3a3a" stroke="#3a3a3a" stroke-width="0.25" textLength="1.90" lengthAdjust="spacingAndGlyphs">1</text>
<rect x="272.3" y="253.29" width="2.8" height="1.2" fill="#2a3330"/>
<text x="259.80" y="257.15" font-size="7.0" font-weight="bold" fill="#3a3a3a" stroke="#3a3a3a" stroke-width="0.25" textLength="3.40" lengthAdjust="spacingAndGlyphs">6</text><text x="263.50" y="257.15" font-size="7.0" font-weight="bold" fill="#3a3a3a" stroke="#3a3a3a" stroke-width="0.25" textLength="3.40" lengthAdjust="spacingAndGlyphs">3</text>
<rect x="272.3" y="262.13" width="2.8" height="1.2" fill="#2a3330"/>
<text x="259.80" y="266.06" font-size="7.0" font-weight="bold" fill="#3a3a3a" stroke="#3a3a3a" stroke-width="0.25" textLength="3.40" lengthAdjust="spacingAndGlyphs">7</text><text x="263.50" y="266.06" font-size="7.0" font-weight="bold" fill="#3a3a3a" stroke="#3a3a3a" stroke-width="0.25" textLength="3.40" lengthAdjust="spacingAndGlyphs">3</text>
<rect x="275.0" y="5.2" width="76.0" height="21.2" fill="rgb(196,212,206)"/>
<text x="313.85" y="21.8" font-size="15.2" fill="#111" text-anchor="middle" textLength="18.2" lengthAdjust="spacingAndGlyphs">Cd</text>
<rect x="277.40" y="28.60" width="24.07" height="9.14" fill="rgb(232,228,252)"/>
<rect x="301.17" y="28.60" width="24.07" height="9.14" fill="rgb(228,225,252)"/>
<rect x="324.93" y="28.60" width="24.07" height="9.14" fill="rgb(242,240,252)"/>
<rect x="277.40" y="37.44" width="24.07" height="9.14" fill="rgb(200,192,250)"/>
<rect x="301.17" y="37.44" width="24.07" height="9.14" fill="rgb(255,253,253)"/>
<rect x="324.93" y="37.44" width="24.07" height="9.14" fill="rgb(215,208,250)"/>
<rect x="277.40" y="46.27" width="24.07" height="9.14" fill="rgb(248,175,170)"/>
<rect x="301.17" y="46.27" width="24.07" height="9.14" fill="rgb(245,165,160)"/>
<rect x="324.93" y="46.27" width="24.07" height="9.14" fill="rgb(240,120,120)"/>
<rect x="277.40" y="55.11" width="24.07" height="9.14" fill="rgb(252,235,228)"/>
<rect x="301.17" y="55.11" width="24.07" height="9.14" fill="rgb(248,245,250)"/>
<rect x="324.93" y="55.11" width="24.07" height="9.14" fill="rgb(210,200,250)"/>
<rect x="277.40" y="63.94" width="24.07" height="9.14" fill="rgb(252,235,228)"/>
<rect x="301.17" y="63.94" width="24.07" height="9.14" fill="rgb(250,248,248)"/>
<rect x="324.93" y="63.94" width="24.07" height="9.14" fill="rgb(250,225,222)"/>
<rect x="277.40" y="72.78" width="24.07" height="9.14" fill="rgb(175,165,248)"/>
<rect x="301.17" y="72.78" width="24.07" height="9.14" fill="rgb(205,198,250)"/>
<rect x="324.93" y="72.78" width="24.07" height="9.14" fill="rgb(220,215,250)"/>
<rect x="277.40" y="81.61" width="24.07" height="9.14" fill="rgb(255,253,252)"/>
<rect x="301.17" y="81.61" width="24.07" height="9.14" fill="rgb(238,235,252)"/>
<rect x="324.93" y="81.61" width="24.07" height="9.14" fill="rgb(238,235,252)"/>
<rect x="277.40" y="90.45" width="24.07" height="9.14" fill="rgb(235,232,252)"/>
<rect x="301.17" y="90.45" width="24.07" height="9.14" fill="rgb(245,242,252)"/>
<rect x="324.93" y="90.45" width="24.07" height="9.14" fill="rgb(242,240,252)"/>
<rect x="277.40" y="99.28" width="24.07" height="9.14" fill="rgb(250,232,225)"/>
<rect x="301.17" y="99.28" width="24.07" height="9.14" fill="rgb(248,245,250)"/>
<rect x="324.93" y="99.28" width="24.07" height="9.14" fill="rgb(248,245,250)"/>
<rect x="277.40" y="108.12" width="24.07" height="9.14" fill="rgb(248,205,205)"/>
<rect x="301.17" y="108.12" width="24.07" height="9.14" fill="rgb(252,240,238)"/>
<rect x="324.93" y="108.12" width="24.07" height="9.14" fill="rgb(212,207,252)"/>
<rect x="277.40" y="116.95" width="24.07" height="9.14" fill="rgb(252,235,230)"/>
<rect x="301.17" y="116.95" width="24.07" height="9.14" fill="rgb(252,250,250)"/>
<rect x="324.93" y="116.95" width="24.07" height="9.14" fill="rgb(240,238,252)"/>
<rect x="277.40" y="125.78" width="24.07" height="9.14" fill="rgb(252,245,248)"/>
<rect x="301.17" y="125.78" width="24.07" height="9.14" fill="rgb(252,250,252)"/>
<rect x="324.93" y="125.78" width="24.07" height="9.14" fill="rgb(232,228,252)"/>
<rect x="277.40" y="134.62" width="24.07" height="9.14" fill="rgb(252,235,230)"/>
<rect x="301.17" y="134.62" width="24.07" height="9.14" fill="rgb(210,205,250)"/>
<rect x="324.93" y="134.62" width="24.07" height="9.14" fill="rgb(252,250,252)"/>
<rect x="277.40" y="143.46" width="24.07" height="9.14" fill="rgb(248,190,192)"/>
<rect x="301.17" y="143.46" width="24.07" height="9.14" fill="rgb(250,218,214)"/>
<rect x="324.93" y="143.46" width="24.07" height="9.14" fill="rgb(246,178,180)"/>
<rect x="277.40" y="152.29" width="24.07" height="9.14" fill="rgb(247,182,187)"/>
<rect x="301.17" y="152.29" width="24.07" height="9.14" fill="rgb(250,218,214)"/>
<rect x="324.93" y="152.29" width="24.07" height="9.14" fill="rgb(246,182,184)"/>
<rect x="277.40" y="161.12" width="24.07" height="9.14" fill="rgb(247,182,187)"/>
<rect x="301.17" y="161.12" width="24.07" height="9.14" fill="rgb(250,215,212)"/>
<rect x="324.93" y="161.12" width="24.07" height="9.14" fill="rgb(247,188,188)"/>
<rect x="277.40" y="169.96" width="24.07" height="9.14" fill="rgb(250,215,210)"/>
<rect x="301.17" y="169.96" width="24.07" height="9.14" fill="rgb(250,215,210)"/>
<rect x="324.93" y="169.96" width="24.07" height="9.14" fill="rgb(249,210,205)"/>
<rect x="277.40" y="178.80" width="24.07" height="9.14" fill="rgb(250,215,210)"/>
<rect x="301.17" y="178.80" width="24.07" height="9.14" fill="rgb(250,215,210)"/>
<rect x="324.93" y="178.80" width="24.07" height="9.14" fill="rgb(249,210,205)"/>
<rect x="277.40" y="187.63" width="24.07" height="9.14" fill="rgb(235,232,252)"/>
<rect x="301.17" y="187.63" width="24.07" height="9.14" fill="rgb(222,218,252)"/>
<rect x="324.93" y="187.63" width="24.07" height="9.14" fill="rgb(250,248,252)"/>
<rect x="277.40" y="196.47" width="24.07" height="9.14" fill="rgb(232,228,252)"/>
<rect x="301.17" y="196.47" width="24.07" height="9.14" fill="rgb(255,255,255)"/>
<rect x="324.93" y="196.47" width="24.07" height="9.14" fill="rgb(240,238,252)"/>
<rect x="277.40" y="205.30" width="24.07" height="9.14" fill="rgb(222,215,252)"/>
<rect x="301.17" y="205.30" width="24.07" height="9.14" fill="rgb(252,245,240)"/>
<rect x="324.93" y="205.30" width="24.07" height="9.14" fill="rgb(240,238,252)"/>
<rect x="277.40" y="214.14" width="24.07" height="9.14" fill="rgb(220,212,252)"/>
<rect x="301.17" y="214.14" width="24.07" height="9.14" fill="rgb(255,253,252)"/>
<rect x="324.93" y="214.14" width="24.07" height="9.14" fill="rgb(242,240,252)"/>
<rect x="277.40" y="222.97" width="24.07" height="9.14" fill="rgb(218,210,252)"/>
<rect x="301.17" y="222.97" width="24.07" height="9.14" fill="rgb(255,253,252)"/>
<rect x="324.93" y="222.97" width="24.07" height="9.14" fill="rgb(225,220,252)"/>
<rect x="277.40" y="231.81" width="24.07" height="9.14" fill="rgb(235,232,252)"/>
<rect x="301.17" y="231.81" width="24.07" height="9.14" fill="rgb(255,253,252)"/>
<rect x="324.93" y="231.81" width="24.07" height="9.14" fill="rgb(250,245,248)"/>
<rect x="277.40" y="240.64" width="24.07" height="9.14" fill="rgb(235,232,252)"/>
<rect x="301.17" y="240.64" width="24.07" height="9.14" fill="rgb(252,250,250)"/>
<rect x="324.93" y="240.64" width="24.07" height="9.14" fill="rgb(250,245,248)"/>
<rect x="277.40" y="249.48" width="24.07" height="9.14" fill="rgb(235,232,252)"/>
<rect x="301.17" y="249.48" width="24.07" height="9.14" fill="rgb(252,250,250)"/>
<rect x="324.93" y="249.48" width="24.07" height="9.14" fill="rgb(250,245,248)"/>
<rect x="277.40" y="258.31" width="24.07" height="9.14" fill="rgb(215,208,252)"/>
<rect x="301.17" y="258.31" width="24.07" height="9.14" fill="rgb(252,250,252)"/>
<rect x="324.93" y="258.31" width="24.07" height="9.14" fill="rgb(240,238,252)"/>
<g transform="translate(289.28,77.89)"><path d="M0,-3.3V3.3M-3.3,-1.9L3.3,1.9M-3.3,1.9L3.3,-1.9" stroke="#000" stroke-width="1.15" fill="none"/><circle r="1.4" fill="#000"/></g>
<g transform="translate(289.28,263.43)"><path d="M0,-3.3V3.3M-3.3,-1.9L3.3,1.9M-3.3,1.9L3.3,-1.9" stroke="#000" stroke-width="1.15" fill="none"/><circle r="1.4" fill="#000"/></g>
<rect x="275.0" y="267.6" width="76.4" height="1.1" fill="#2a3330"/>
<rect x="288.83" y="268.3" width="0.9" height="2.2" fill="#2a3330"/>
<text x="289.28" y="283.7" font-size="14" fill="#111" text-anchor="middle">C</text>
<rect x="312.60" y="268.3" width="0.9" height="2.2" fill="#2a3330"/>
<text x="313.05" y="283.7" font-size="14" fill="#111" text-anchor="middle">F</text>
<rect x="336.37" y="268.3" width="0.9" height="2.2" fill="#2a3330"/>
<text x="336.82" y="283.7" font-size="14" fill="#111" text-anchor="middle" textLength="15.0" lengthAdjust="spacingAndGlyphs">M</text>
<rect x="358.0" y="5.2" width="75.0" height="21.2" fill="rgb(196,212,206)"/>
<text x="394.90" y="21.8" font-size="15.2" fill="#111" text-anchor="middle" textLength="16.4" lengthAdjust="spacingAndGlyphs">Cr</text>
<rect x="360.60" y="28.60" width="23.73" height="9.14" fill="rgb(165,158,248)"/>
<rect x="384.03" y="28.60" width="23.73" height="9.14" fill="rgb(180,170,248)"/>
<rect x="407.47" y="28.60" width="23.73" height="9.14" fill="rgb(222,218,250)"/>
<rect x="360.60" y="37.44" width="23.73" height="9.14" fill="rgb(95,90,240)"/>
<rect x="384.03" y="37.44" width="23.73" height="9.14" fill="rgb(175,165,245)"/>
<rect x="407.47" y="37.44" width="23.73" height="9.14" fill="rgb(175,165,245)"/>
<rect x="360.60" y="46.27" width="23.73" height="9.14" fill="rgb(248,195,195)"/>
<rect x="384.03" y="46.27" width="23.73" height="9.14" fill="rgb(245,150,150)"/>
<rect x="407.47" y="46.27" width="23.73" height="9.14" fill="rgb(240,105,110)"/>
<rect x="360.60" y="55.11" width="23.73" height="9.14" fill="rgb(250,215,210)"/>
<rect x="384.03" y="55.11" width="23.73" height="9.14" fill="rgb(255,255,255)"/>
<rect x="407.47" y="55.11" width="23.73" height="9.14" fill="rgb(205,195,250)"/>
<rect x="360.60" y="63.94" width="23.73" height="9.14" fill="rgb(245,140,140)"/>
<rect x="384.03" y="63.94" width="23.73" height="9.14" fill="rgb(248,175,175)"/>
<rect x="407.47" y="63.94" width="23.73" height="9.14" fill="rgb(242,135,135)"/>
<rect x="360.60" y="72.78" width="23.73" height="9.14" fill="rgb(115,105,240)"/>
<rect x="384.03" y="72.78" width="23.73" height="9.14" fill="rgb(150,140,245)"/>
<rect x="407.47" y="72.78" width="23.73" height="9.14" fill="rgb(220,215,250)"/>
<rect x="360.60" y="81.61" width="23.73" height="9.14" fill="rgb(252,235,232)"/>
<rect x="384.03" y="81.61" width="23.73" height="9.14" fill="rgb(235,230,252)"/>
<rect x="407.47" y="81.61" width="23.73" height="9.14" fill="rgb(250,232,225)"/>
<rect x="360.60" y="90.45" width="23.73" height="9.14" fill="rgb(200,190,250)"/>
<rect x="384.03" y="90.45" width="23.73" height="9.14" fill="rgb(205,195,250)"/>
<rect x="407.47" y="90.45" width="23.73" height="9.14" fill="rgb(240,238,252)"/>
<rect x="360.60" y="99.28" width="23.73" height="9.14" fill="rgb(250,235,230)"/>
<rect x="384.03" y="99.28" width="23.73" height="9.14" fill="rgb(240,235,250)"/>
<rect x="407.47" y="99.28" width="23.73" height="9.14" fill="rgb(180,170,248)"/>
<rect x="360.60" y="108.12" width="23.73" height="9.14" fill="rgb(243,140,145)"/>
<rect x="384.03" y="108.12" width="23.73" height="9.14" fill="rgb(245,160,160)"/>
<rect x="407.47" y="108.12" width="23.73" height="9.14" fill="rgb(245,240,252)"/>
<rect x="360.60" y="116.95" width="23.73" height="9.14" fill="rgb(250,215,210)"/>
<rect x="384.03" y="116.95" width="23.73" height="9.14" fill="rgb(250,225,222)"/>
<rect x="407.47" y="116.95" width="23.73" height="9.14" fill="rgb(250,245,248)"/>
<rect x="360.60" y="125.78" width="23.73" height="9.14" fill="rgb(250,215,210)"/>
<rect x="384.03" y="125.78" width="23.73" height="9.14" fill="rgb(250,225,222)"/>
<rect x="407.47" y="125.78" width="23.73" height="9.14" fill="rgb(250,245,248)"/>
<rect x="360.60" y="134.62" width="23.73" height="9.14" fill="rgb(250,205,205)"/>
<rect x="384.03" y="134.62" width="23.73" height="9.14" fill="rgb(238,235,252)"/>
<rect x="407.47" y="134.62" width="23.73" height="9.14" fill="rgb(120,110,242)"/>
<rect x="360.60" y="143.46" width="23.73" height="9.14" fill="rgb(242,95,100)"/>
<rect x="384.03" y="143.46" width="23.73" height="9.14" fill="rgb(246,170,170)"/>
<rect x="407.47" y="143.46" width="23.73" height="9.14" fill="rgb(250,225,220)"/>
<rect x="360.60" y="152.29" width="23.73" height="9.14" fill="rgb(242,88,92)"/>
<rect x="384.03" y="152.29" width="23.73" height="9.14" fill="rgb(247,185,185)"/>
<rect x="407.47" y="152.29" width="23.73" height="9.14" fill="rgb(250,225,220)"/>
<rect x="360.60" y="161.12" width="23.73" height="9.14" fill="rgb(242,92,96)"/>
<rect x="384.03" y="161.12" width="23.73" height="9.14" fill="rgb(247,185,185)"/>
<rect x="407.47" y="161.12" width="23.73" height="9.14" fill="rgb(250,225,220)"/>
<rect x="360.60" y="169.96" width="23.73" height="9.14" fill="rgb(246,160,160)"/>
<rect x="384.03" y="169.96" width="23.73" height="9.14" fill="rgb(250,225,220)"/>
<rect x="407.47" y="169.96" width="23.73" height="9.14" fill="rgb(250,225,220)"/>
<rect x="360.60" y="178.80" width="23.73" height="9.14" fill="rgb(246,165,165)"/>
<rect x="384.03" y="178.80" width="23.73" height="9.14" fill="rgb(250,225,220)"/>
<rect x="407.47" y="178.80" width="23.73" height="9.14" fill="rgb(250,225,220)"/>
<rect x="360.60" y="187.63" width="23.73" height="9.14" fill="rgb(110,100,240)"/>
<rect x="384.03" y="187.63" width="23.73" height="9.14" fill="rgb(155,145,246)"/>
<rect x="407.47" y="187.63" width="23.73" height="9.14" fill="rgb(155,145,246)"/>
<rect x="360.60" y="196.47" width="23.73" height="9.14" fill="rgb(210,202,250)"/>
<rect x="384.03" y="196.47" width="23.73" height="9.14" fill="rgb(250,222,212)"/>
<rect x="407.47" y="196.47" width="23.73" height="9.14" fill="rgb(245,172,158)"/>
<rect x="360.60" y="205.30" width="23.73" height="9.14" fill="rgb(140,130,244)"/>
<rect x="384.03" y="205.30" width="23.73" height="9.14" fill="rgb(252,250,252)"/>
<rect x="407.47" y="205.30" width="23.73" height="9.14" fill="rgb(250,245,248)"/>
<rect x="360.60" y="214.14" width="23.73" height="9.14" fill="rgb(140,130,244)"/>
<rect x="384.03" y="214.14" width="23.73" height="9.14" fill="rgb(240,238,252)"/>
<rect x="407.47" y="214.14" width="23.73" height="9.14" fill="rgb(235,232,252)"/>
<rect x="360.60" y="222.97" width="23.73" height="9.14" fill="rgb(125,115,242)"/>
<rect x="384.03" y="222.97" width="23.73" height="9.14" fill="rgb(230,225,252)"/>
<rect x="407.47" y="222.97" width="23.73" height="9.14" fill="rgb(235,232,252)"/>
<rect x="360.60" y="231.81" width="23.73" height="9.14" fill="rgb(185,178,250)"/>
<rect x="384.03" y="231.81" width="23.73" height="9.14" fill="rgb(225,220,252)"/>
<rect x="407.47" y="231.81" width="23.73" height="9.14" fill="rgb(250,230,228)"/>
<rect x="360.60" y="240.64" width="23.73" height="9.14" fill="rgb(228,222,252)"/>
<rect x="384.03" y="240.64" width="23.73" height="9.14" fill="rgb(240,238,252)"/>
<rect x="407.47" y="240.64" width="23.73" height="9.14" fill="rgb(248,198,188)"/>
<rect x="360.60" y="249.48" width="23.73" height="9.14" fill="rgb(230,225,252)"/>
<rect x="384.03" y="249.48" width="23.73" height="9.14" fill="rgb(240,238,252)"/>
<rect x="407.47" y="249.48" width="23.73" height="9.14" fill="rgb(250,215,210)"/>
<rect x="360.60" y="258.31" width="23.73" height="9.14" fill="rgb(180,170,248)"/>
<rect x="384.03" y="258.31" width="23.73" height="9.14" fill="rgb(245,242,252)"/>
<rect x="407.47" y="258.31" width="23.73" height="9.14" fill="rgb(252,248,250)"/>
<g transform="translate(372.32,33.72)"><path d="M0,-3.3V3.3M-3.3,-1.9L3.3,1.9M-3.3,1.9L3.3,-1.9" stroke="#000" stroke-width="1.15" fill="none"/><circle r="1.4" fill="#000"/></g>
<g transform="translate(395.75,33.72)"><path d="M0,-3.3V3.3M-3.3,-1.9L3.3,1.9M-3.3,1.9L3.3,-1.9" stroke="#000" stroke-width="1.15" fill="none"/><circle r="1.4" fill="#000"/></g>
<g transform="translate(372.32,60.22)"><path d="M0,-3.3V3.3M-3.3,-1.9L3.3,1.9M-3.3,1.9L3.3,-1.9" stroke="#000" stroke-width="1.15" fill="none"/><circle r="1.4" fill="#000"/></g>
<g transform="translate(372.32,69.06)"><path d="M0,-3.3V3.3M-3.3,-1.9L3.3,1.9M-3.3,1.9L3.3,-1.9" stroke="#000" stroke-width="1.15" fill="none"/><circle r="1.4" fill="#000"/></g>
<g transform="translate(372.32,77.89)"><path d="M0,-3.3V3.3M-3.3,-1.9L3.3,1.9M-3.3,1.9L3.3,-1.9" stroke="#000" stroke-width="1.15" fill="none"/><circle r="1.4" fill="#000"/></g>
<g transform="translate(395.75,77.89)"><path d="M0,-3.3V3.3M-3.3,-1.9L3.3,1.9M-3.3,1.9L3.3,-1.9" stroke="#000" stroke-width="1.15" fill="none"/><circle r="1.4" fill="#000"/></g>
<g transform="translate(372.32,113.23)"><path d="M0,-3.3V3.3M-3.3,-1.9L3.3,1.9M-3.3,1.9L3.3,-1.9" stroke="#000" stroke-width="1.15" fill="none"/><circle r="1.4" fill="#000"/></g>
<g transform="translate(372.32,122.07)"><path d="M0,-3.3V3.3M-3.3,-1.9L3.3,1.9M-3.3,1.9L3.3,-1.9" stroke="#000" stroke-width="1.15" fill="none"/><circle r="1.4" fill="#000"/></g>
<g transform="translate(372.32,130.90)"><path d="M0,-3.3V3.3M-3.3,-1.9L3.3,1.9M-3.3,1.9L3.3,-1.9" stroke="#000" stroke-width="1.15" fill="none"/><circle r="1.4" fill="#000"/></g>
<g transform="translate(372.32,148.57)"><path d="M0,-3.3V3.3M-3.3,-1.9L3.3,1.9M-3.3,1.9L3.3,-1.9" stroke="#000" stroke-width="1.15" fill="none"/><circle r="1.4" fill="#000"/></g>
<g transform="translate(372.32,157.41)"><path d="M0,-3.3V3.3M-3.3,-1.9L3.3,1.9M-3.3,1.9L3.3,-1.9" stroke="#000" stroke-width="1.15" fill="none"/><circle r="1.4" fill="#000"/></g>
<g transform="translate(372.32,166.24)"><path d="M0,-3.3V3.3M-3.3,-1.9L3.3,1.9M-3.3,1.9L3.3,-1.9" stroke="#000" stroke-width="1.15" fill="none"/><circle r="1.4" fill="#000"/></g>
<g transform="translate(372.32,175.08)"><path d="M0,-3.3V3.3M-3.3,-1.9L3.3,1.9M-3.3,1.9L3.3,-1.9" stroke="#000" stroke-width="1.15" fill="none"/><circle r="1.4" fill="#000"/></g>
<g transform="translate(372.32,183.91)"><path d="M0,-3.3V3.3M-3.3,-1.9L3.3,1.9M-3.3,1.9L3.3,-1.9" stroke="#000" stroke-width="1.15" fill="none"/><circle r="1.4" fill="#000"/></g>
<g transform="translate(372.32,192.75)"><path d="M0,-3.3V3.3M-3.3,-1.9L3.3,1.9M-3.3,1.9L3.3,-1.9" stroke="#000" stroke-width="1.15" fill="none"/><circle r="1.4" fill="#000"/></g>
<g transform="translate(395.75,192.75)"><path d="M0,-3.3V3.3M-3.3,-1.9L3.3,1.9M-3.3,1.9L3.3,-1.9" stroke="#000" stroke-width="1.15" fill="none"/><circle r="1.4" fill="#000"/></g>
<g transform="translate(419.18,192.75)"><path d="M0,-3.3V3.3M-3.3,-1.9L3.3,1.9M-3.3,1.9L3.3,-1.9" stroke="#000" stroke-width="1.15" fill="none"/><circle r="1.4" fill="#000"/></g>
<g transform="translate(419.18,201.58)"><path d="M0,-3.3V3.3M-3.3,-1.9L3.3,1.9M-3.3,1.9L3.3,-1.9" stroke="#000" stroke-width="1.15" fill="none"/><circle r="1.4" fill="#000"/></g>
<g transform="translate(372.32,210.42)"><path d="M0,-3.3V3.3M-3.3,-1.9L3.3,1.9M-3.3,1.9L3.3,-1.9" stroke="#000" stroke-width="1.15" fill="none"/><circle r="1.4" fill="#000"/></g>
<g transform="translate(372.32,219.25)"><path d="M0,-3.3V3.3M-3.3,-1.9L3.3,1.9M-3.3,1.9L3.3,-1.9" stroke="#000" stroke-width="1.15" fill="none"/><circle r="1.4" fill="#000"/></g>
<g transform="translate(372.32,228.09)"><path d="M0,-3.3V3.3M-3.3,-1.9L3.3,1.9M-3.3,1.9L3.3,-1.9" stroke="#000" stroke-width="1.15" fill="none"/><circle r="1.4" fill="#000"/></g>
<g transform="translate(419.18,245.76)"><path d="M0,-3.3V3.3M-3.3,-1.9L3.3,1.9M-3.3,1.9L3.3,-1.9" stroke="#000" stroke-width="1.15" fill="none"/><circle r="1.4" fill="#000"/></g>
<g transform="translate(372.32,263.43)"><path d="M0,-3.3V3.3M-3.3,-1.9L3.3,1.9M-3.3,1.9L3.3,-1.9" stroke="#000" stroke-width="1.15" fill="none"/><circle r="1.4" fill="#000"/></g>
<rect x="358.0" y="267.6" width="75.4" height="1.1" fill="#2a3330"/>
<rect x="371.87" y="268.3" width="0.9" height="2.2" fill="#2a3330"/>
<text x="372.32" y="283.7" font-size="14" fill="#111" text-anchor="middle">C</text>
<rect x="395.30" y="268.3" width="0.9" height="2.2" fill="#2a3330"/>
<text x="395.75" y="283.7" font-size="14" fill="#111" text-anchor="middle">F</text>
<rect x="418.73" y="268.3" width="0.9" height="2.2" fill="#2a3330"/>
<text x="419.18" y="283.7" font-size="14" fill="#111" text-anchor="middle" textLength="15.0" lengthAdjust="spacingAndGlyphs">M</text>
<rect x="440.0" y="5.2" width="75.0" height="21.2" fill="rgb(196,212,206)"/>
<text x="476.60" y="21.8" font-size="15.2" fill="#111" text-anchor="middle" textLength="18.6" lengthAdjust="spacingAndGlyphs">Zn</text>
<rect x="442.70" y="28.60" width="23.77" height="9.14" fill="rgb(195,188,250)"/>
<rect x="466.17" y="28.60" width="23.77" height="9.14" fill="rgb(190,182,250)"/>
<rect x="489.63" y="28.60" width="23.77" height="9.14" fill="rgb(175,165,248)"/>
<rect x="442.70" y="37.44" width="23.77" height="9.14" fill="rgb(195,188,250)"/>
<rect x="466.17" y="37.44" width="23.77" height="9.14" fill="rgb(195,188,250)"/>
<rect x="489.63" y="37.44" width="23.77" height="9.14" fill="rgb(110,100,240)"/>
<rect x="442.70" y="46.27" width="23.77" height="9.14" fill="rgb(245,150,150)"/>
<rect x="466.17" y="46.27" width="23.77" height="9.14" fill="rgb(242,80,80)"/>
<rect x="489.63" y="46.27" width="23.77" height="9.14" fill="rgb(240,10,10)"/>
<rect x="442.70" y="55.11" width="23.77" height="9.14" fill="rgb(248,200,195)"/>
<rect x="466.17" y="55.11" width="23.77" height="9.14" fill="rgb(248,245,250)"/>
<rect x="489.63" y="55.11" width="23.77" height="9.14" fill="rgb(250,225,220)"/>
<rect x="442.70" y="63.94" width="23.77" height="9.14" fill="rgb(252,240,235)"/>
<rect x="466.17" y="63.94" width="23.77" height="9.14" fill="rgb(252,245,245)"/>
<rect x="489.63" y="63.94" width="23.77" height="9.14" fill="rgb(250,215,210)"/>
<rect x="442.70" y="72.78" width="23.77" height="9.14" fill="rgb(80,75,235)"/>
<rect x="466.17" y="72.78" width="23.77" height="9.14" fill="rgb(80,75,235)"/>
<rect x="489.63" y="72.78" width="23.77" height="9.14" fill="rgb(85,80,235)"/>
<rect x="442.70" y="81.61" width="23.77" height="9.14" fill="rgb(252,235,230)"/>
<rect x="466.17" y="81.61" width="23.77" height="9.14" fill="rgb(245,240,250)"/>
<rect x="489.63" y="81.61" width="23.77" height="9.14" fill="rgb(250,225,225)"/>
<rect x="442.70" y="90.45" width="23.77" height="9.14" fill="rgb(170,160,245)"/>
<rect x="466.17" y="90.45" width="23.77" height="9.14" fill="rgb(175,165,245)"/>
<rect x="489.63" y="90.45" width="23.77" height="9.14" fill="rgb(170,160,245)"/>
<rect x="442.70" y="99.28" width="23.77" height="9.14" fill="rgb(250,210,205)"/>
<rect x="466.17" y="99.28" width="23.77" height="9.14" fill="rgb(250,240,235)"/>
<rect x="489.63" y="99.28" width="23.77" height="9.14" fill="rgb(250,220,215)"/>
<rect x="442.70" y="108.12" width="23.77" height="9.14" fill="rgb(245,145,150)"/>
<rect x="466.17" y="108.12" width="23.77" height="9.14" fill="rgb(247,180,180)"/>
<rect x="489.63" y="108.12" width="23.77" height="9.14" fill="rgb(250,210,210)"/>
<rect x="442.70" y="116.95" width="23.77" height="9.14" fill="rgb(250,225,225)"/>
<rect x="466.17" y="116.95" width="23.77" height="9.14" fill="rgb(250,225,225)"/>
<rect x="489.63" y="116.95" width="23.77" height="9.14" fill="rgb(250,230,228)"/>
<rect x="442.70" y="125.78" width="23.77" height="9.14" fill="rgb(250,225,225)"/>
<rect x="466.17" y="125.78" width="23.77" height="9.14" fill="rgb(250,228,228)"/>
<rect x="489.63" y="125.78" width="23.77" height="9.14" fill="rgb(250,230,228)"/>
<rect x="442.70" y="134.62" width="23.77" height="9.14" fill="rgb(246,165,165)"/>
<rect x="466.17" y="134.62" width="23.77" height="9.14" fill="rgb(248,195,195)"/>
<rect x="489.63" y="134.62" width="23.77" height="9.14" fill="rgb(242,95,100)"/>
<rect x="442.70" y="143.46" width="23.77" height="9.14" fill="rgb(242,100,105)"/>
<rect x="466.17" y="143.46" width="23.77" height="9.14" fill="rgb(245,140,140)"/>
<rect x="489.63" y="143.46" width="23.77" height="9.14" fill="rgb(242,95,100)"/>
<rect x="442.70" y="152.29" width="23.77" height="9.14" fill="rgb(242,95,100)"/>
<rect x="466.17" y="152.29" width="23.77" height="9.14" fill="rgb(247,175,175)"/>
<rect x="489.63" y="152.29" width="23.77" height="9.14" fill="rgb(242,100,105)"/>
<rect x="442.70" y="161.12" width="23.77" height="9.14" fill="rgb(242,100,105)"/>
<rect x="466.17" y="161.12" width="23.77" height="9.14" fill="rgb(247,190,190)"/>
<rect x="489.63" y="161.12" width="23.77" height="9.14" fill="rgb(243,115,118)"/>
<rect x="442.70" y="169.96" width="23.77" height="9.14" fill="rgb(246,160,160)"/>
<rect x="466.17" y="169.96" width="23.77" height="9.14" fill="rgb(250,225,222)"/>
<rect x="489.63" y="169.96" width="23.77" height="9.14" fill="rgb(246,160,160)"/>
<rect x="442.70" y="178.80" width="23.77" height="9.14" fill="rgb(246,165,165)"/>
<rect x="466.17" y="178.80" width="23.77" height="9.14" fill="rgb(250,225,222)"/>
<rect x="489.63" y="178.80" width="23.77" height="9.14" fill="rgb(246,165,165)"/>
<rect x="442.70" y="187.63" width="23.77" height="9.14" fill="rgb(130,120,242)"/>
<rect x="466.17" y="187.63" width="23.77" height="9.14" fill="rgb(148,138,245)"/>
<rect x="489.63" y="187.63" width="23.77" height="9.14" fill="rgb(155,145,245)"/>
<rect x="442.70" y="196.47" width="23.77" height="9.14" fill="rgb(212,206,250)"/>
<rect x="466.17" y="196.47" width="23.77" height="9.14" fill="rgb(245,242,252)"/>
<rect x="489.63" y="196.47" width="23.77" height="9.14" fill="rgb(212,206,250)"/>
<rect x="442.70" y="205.30" width="23.77" height="9.14" fill="rgb(150,140,245)"/>
<rect x="466.17" y="205.30" width="23.77" height="9.14" fill="rgb(228,224,252)"/>
<rect x="489.63" y="205.30" width="23.77" height="9.14" fill="rgb(172,162,247)"/>
<rect x="442.70" y="214.14" width="23.77" height="9.14" fill="rgb(150,140,245)"/>
<rect x="466.17" y="214.14" width="23.77" height="9.14" fill="rgb(215,208,250)"/>
<rect x="489.63" y="214.14" width="23.77" height="9.14" fill="rgb(160,150,245)"/>
<rect x="442.70" y="222.97" width="23.77" height="9.14" fill="rgb(130,120,242)"/>
<rect x="466.17" y="222.97" width="23.77" height="9.14" fill="rgb(215,208,250)"/>
<rect x="489.63" y="222.97" width="23.77" height="9.14" fill="rgb(150,140,245)"/>
<rect x="442.70" y="231.81" width="23.77" height="9.14" fill="rgb(165,155,245)"/>
<rect x="466.17" y="231.81" width="23.77" height="9.14" fill="rgb(210,202,250)"/>
<rect x="489.63" y="231.81" width="23.77" height="9.14" fill="rgb(210,202,250)"/>
<rect x="442.70" y="240.64" width="23.77" height="9.14" fill="rgb(200,192,250)"/>
<rect x="466.17" y="240.64" width="23.77" height="9.14" fill="rgb(232,228,252)"/>
<rect x="489.63" y="240.64" width="23.77" height="9.14" fill="rgb(222,218,252)"/>
<rect x="442.70" y="249.48" width="23.77" height="9.14" fill="rgb(175,165,248)"/>
<rect x="466.17" y="249.48" width="23.77" height="9.14" fill="rgb(220,215,252)"/>
<rect x="489.63" y="249.48" width="23.77" height="9.14" fill="rgb(220,215,252)"/>
<rect x="442.70" y="258.31" width="23.77" height="9.14" fill="rgb(175,165,248)"/>
<rect x="466.17" y="258.31" width="23.77" height="9.14" fill="rgb(210,202,250)"/>
<rect x="489.63" y="258.31" width="23.77" height="9.14" fill="rgb(175,165,248)"/>
<g transform="translate(454.43,51.39)"><path d="M0,-3.3V3.3M-3.3,-1.9L3.3,1.9M-3.3,1.9L3.3,-1.9" stroke="#000" stroke-width="1.15" fill="none"/><circle r="1.4" fill="#000"/></g>
<g transform="translate(477.90,51.39)"><path d="M0,-3.3V3.3M-3.3,-1.9L3.3,1.9M-3.3,1.9L3.3,-1.9" stroke="#000" stroke-width="1.15" fill="none"/><circle r="1.4" fill="#000"/></g>
<g transform="translate(454.43,60.22)"><path d="M0,-3.3V3.3M-3.3,-1.9L3.3,1.9M-3.3,1.9L3.3,-1.9" stroke="#000" stroke-width="1.15" fill="none"/><circle r="1.4" fill="#000"/></g>
<g transform="translate(454.43,77.89)"><path d="M0,-3.3V3.3M-3.3,-1.9L3.3,1.9M-3.3,1.9L3.3,-1.9" stroke="#000" stroke-width="1.15" fill="none"/><circle r="1.4" fill="#000"/></g>
<g transform="translate(477.90,77.89)"><path d="M0,-3.3V3.3M-3.3,-1.9L3.3,1.9M-3.3,1.9L3.3,-1.9" stroke="#000" stroke-width="1.15" fill="none"/><circle r="1.4" fill="#000"/></g>
<g transform="translate(501.37,77.89)"><path d="M0,-3.3V3.3M-3.3,-1.9L3.3,1.9M-3.3,1.9L3.3,-1.9" stroke="#000" stroke-width="1.15" fill="none"/><circle r="1.4" fill="#000"/></g>
<g transform="translate(454.43,95.56)"><path d="M0,-3.3V3.3M-3.3,-1.9L3.3,1.9M-3.3,1.9L3.3,-1.9" stroke="#000" stroke-width="1.15" fill="none"/><circle r="1.4" fill="#000"/></g>
<g transform="translate(477.90,95.56)"><path d="M0,-3.3V3.3M-3.3,-1.9L3.3,1.9M-3.3,1.9L3.3,-1.9" stroke="#000" stroke-width="1.15" fill="none"/><circle r="1.4" fill="#000"/></g>
<g transform="translate(454.43,104.40)"><path d="M0,-3.3V3.3M-3.3,-1.9L3.3,1.9M-3.3,1.9L3.3,-1.9" stroke="#000" stroke-width="1.15" fill="none"/><circle r="1.4" fill="#000"/></g>
<g transform="translate(454.43,113.23)"><path d="M0,-3.3V3.3M-3.3,-1.9L3.3,1.9M-3.3,1.9L3.3,-1.9" stroke="#000" stroke-width="1.15" fill="none"/><circle r="1.4" fill="#000"/></g>
<g transform="translate(454.43,139.74)"><path d="M0,-3.3V3.3M-3.3,-1.9L3.3,1.9M-3.3,1.9L3.3,-1.9" stroke="#000" stroke-width="1.15" fill="none"/><circle r="1.4" fill="#000"/></g>
<g transform="translate(454.43,148.57)"><path d="M0,-3.3V3.3M-3.3,-1.9L3.3,1.9M-3.3,1.9L3.3,-1.9" stroke="#000" stroke-width="1.15" fill="none"/><circle r="1.4" fill="#000"/></g>
<g transform="translate(454.43,157.41)"><path d="M0,-3.3V3.3M-3.3,-1.9L3.3,1.9M-3.3,1.9L3.3,-1.9" stroke="#000" stroke-width="1.15" fill="none"/><circle r="1.4" fill="#000"/></g>
<g transform="translate(454.43,166.24)"><path d="M0,-3.3V3.3M-3.3,-1.9L3.3,1.9M-3.3,1.9L3.3,-1.9" stroke="#000" stroke-width="1.15" fill="none"/><circle r="1.4" fill="#000"/></g>
<g transform="translate(454.43,175.08)"><path d="M0,-3.3V3.3M-3.3,-1.9L3.3,1.9M-3.3,1.9L3.3,-1.9" stroke="#000" stroke-width="1.15" fill="none"/><circle r="1.4" fill="#000"/></g>
<g transform="translate(454.43,183.91)"><path d="M0,-3.3V3.3M-3.3,-1.9L3.3,1.9M-3.3,1.9L3.3,-1.9" stroke="#000" stroke-width="1.15" fill="none"/><circle r="1.4" fill="#000"/></g>
<g transform="translate(454.43,192.75)"><path d="M0,-3.3V3.3M-3.3,-1.9L3.3,1.9M-3.3,1.9L3.3,-1.9" stroke="#000" stroke-width="1.15" fill="none"/><circle r="1.4" fill="#000"/></g>
<g transform="translate(477.90,192.75)"><path d="M0,-3.3V3.3M-3.3,-1.9L3.3,1.9M-3.3,1.9L3.3,-1.9" stroke="#000" stroke-width="1.15" fill="none"/><circle r="1.4" fill="#000"/></g>
<g transform="translate(501.37,192.75)"><path d="M0,-3.3V3.3M-3.3,-1.9L3.3,1.9M-3.3,1.9L3.3,-1.9" stroke="#000" stroke-width="1.15" fill="none"/><circle r="1.4" fill="#000"/></g>
<g transform="translate(454.43,210.42)"><path d="M0,-3.3V3.3M-3.3,-1.9L3.3,1.9M-3.3,1.9L3.3,-1.9" stroke="#000" stroke-width="1.15" fill="none"/><circle r="1.4" fill="#000"/></g>
<g transform="translate(454.43,219.25)"><path d="M0,-3.3V3.3M-3.3,-1.9L3.3,1.9M-3.3,1.9L3.3,-1.9" stroke="#000" stroke-width="1.15" fill="none"/><circle r="1.4" fill="#000"/></g>
<g transform="translate(454.43,228.09)"><path d="M0,-3.3V3.3M-3.3,-1.9L3.3,1.9M-3.3,1.9L3.3,-1.9" stroke="#000" stroke-width="1.15" fill="none"/><circle r="1.4" fill="#000"/></g>
<g transform="translate(454.43,236.92)"><path d="M0,-3.3V3.3M-3.3,-1.9L3.3,1.9M-3.3,1.9L3.3,-1.9" stroke="#000" stroke-width="1.15" fill="none"/><circle r="1.4" fill="#000"/></g>
<g transform="translate(454.43,254.59)"><path d="M0,-3.3V3.3M-3.3,-1.9L3.3,1.9M-3.3,1.9L3.3,-1.9" stroke="#000" stroke-width="1.15" fill="none"/><circle r="1.4" fill="#000"/></g>
<g transform="translate(454.43,263.43)"><path d="M0,-3.3V3.3M-3.3,-1.9L3.3,1.9M-3.3,1.9L3.3,-1.9" stroke="#000" stroke-width="1.15" fill="none"/><circle r="1.4" fill="#000"/></g>
<rect x="440.0" y="267.6" width="75.4" height="1.1" fill="#2a3330"/>
<rect x="453.98" y="268.3" width="0.9" height="2.2" fill="#2a3330"/>
<text x="454.43" y="283.7" font-size="14" fill="#111" text-anchor="middle">C</text>
<rect x="477.45" y="268.3" width="0.9" height="2.2" fill="#2a3330"/>
<text x="477.90" y="283.7" font-size="14" fill="#111" text-anchor="middle">F</text>
<rect x="500.92" y="268.3" width="0.9" height="2.2" fill="#2a3330"/>
<text x="501.37" y="283.7" font-size="14" fill="#111" text-anchor="middle" textLength="15.0" lengthAdjust="spacingAndGlyphs">M</text>
<text x="355.1" y="303.1" font-size="13.3" fill="#111" textLength="81" lengthAdjust="spacingAndGlyphs">Morphotype</text>
<text x="544.2" y="43.3" font-size="11.1" fill="#111" stroke="#111" stroke-width="0.15">Relative concentration</text>
<text x="544.2" y="57.5" font-size="11.1" fill="#111" stroke="#111" stroke-width="0.15">in percentage of</text>
<text x="544.2" y="70.9" font-size="11.1" fill="#111" stroke="#111" stroke-width="0.15">relative control</text>
<rect x="544.2" y="79.1" width="14" height="77.6" fill="url(#gb)"/>
<rect x="544.2" y="88.6" width="2.6" height="0.8" fill="#fff" opacity="0.8"/><rect x="555.6" y="88.6" width="2.6" height="0.8" fill="#fff" opacity="0.8"/>
<rect x="544.2" y="113.6" width="2.6" height="0.8" fill="#fff" opacity="0.8"/><rect x="555.6" y="113.6" width="2.6" height="0.8" fill="#fff" opacity="0.8"/>
<rect x="544.2" y="139.6" width="2.6" height="0.8" fill="#fff" opacity="0.8"/><rect x="555.6" y="139.6" width="2.6" height="0.8" fill="#fff" opacity="0.8"/>
<text x="567.9" y="95.3" font-size="12"  fill="#111">400 %</text>
<text x="567.9" y="111.9" font-size="12"  fill="#111">200 %</text>
<text x="567.9" y="130.3" font-size="12" font-weight="bold" textLength="38.3" lengthAdjust="spacingAndGlyphs" fill="#111">100 %</text>
<text x="567.9" y="147.8" font-size="12"  fill="#111">50 %</text>
<rect x="546.2" y="186.95" width="10" height="7.3" fill="rgb(191,191,186)" stroke="#333" stroke-width="1"/>
<text x="541.4" y="193.90" font-size="9.3" fill="#333" text-anchor="end">ND</text>
<text x="564.3" y="194.50" font-size="10.9" fill="#111" stroke="#111" stroke-width="0.2" textLength="46.9" lengthAdjust="spacingAndGlyphs">Unknown</text>
<rect x="546.2" y="199.70" width="10" height="7.3" fill="rgb(92,82,250)" stroke="#333" stroke-width="1"/>
<text x="541.4" y="206.65" font-size="9.3" fill="#333" text-anchor="end">B</text>
<text x="564.3" y="207.25" font-size="10.9" fill="#111" stroke="#111" stroke-width="0.2" textLength="49.4" lengthAdjust="spacingAndGlyphs">Biphenyls</text>
<rect x="546.2" y="212.45" width="10" height="7.3" fill="rgb(250,240,110)" stroke="#333" stroke-width="1"/>
<text x="541.4" y="219.40" font-size="9.3" fill="#333" text-anchor="end">S</text>
<text x="564.3" y="220.00" font-size="10.9" fill="#111" stroke="#111" stroke-width="0.2" textLength="47.4" lengthAdjust="spacingAndGlyphs">Stilbenes</text>
<rect x="546.2" y="225.20" width="10" height="7.3" fill="rgb(250,70,50)" stroke="#333" stroke-width="1"/>
<text x="541.4" y="232.15" font-size="9.3" fill="#333" text-anchor="end">A</text>
<text x="564.3" y="232.75" font-size="10.9" fill="#111" stroke="#111" stroke-width="0.2" textLength="82.4" lengthAdjust="spacingAndGlyphs">Anthraquinones</text>
<rect x="546.2" y="237.95" width="10" height="7.3" fill="rgb(100,240,50)" stroke="#333" stroke-width="1"/>
<text x="541.4" y="244.90" font-size="9.3" fill="#333" text-anchor="end">C</text>
<text x="564.3" y="245.50" font-size="10.9" fill="#111" stroke="#111" stroke-width="0.2" textLength="116.8" lengthAdjust="spacingAndGlyphs">Cinnamate derivatives</text>
<rect x="546.2" y="250.70" width="10" height="7.3" fill="rgb(120,228,220)" stroke="#333" stroke-width="1"/>
<text x="541.4" y="257.65" font-size="9.3" fill="#333" text-anchor="end">P</text>
<text x="564.3" y="258.25" font-size="10.9" fill="#111" stroke="#111" stroke-width="0.2" textLength="121.5" lengthAdjust="spacingAndGlyphs">Procyanidin derivatives</text>
</svg></body></html>
